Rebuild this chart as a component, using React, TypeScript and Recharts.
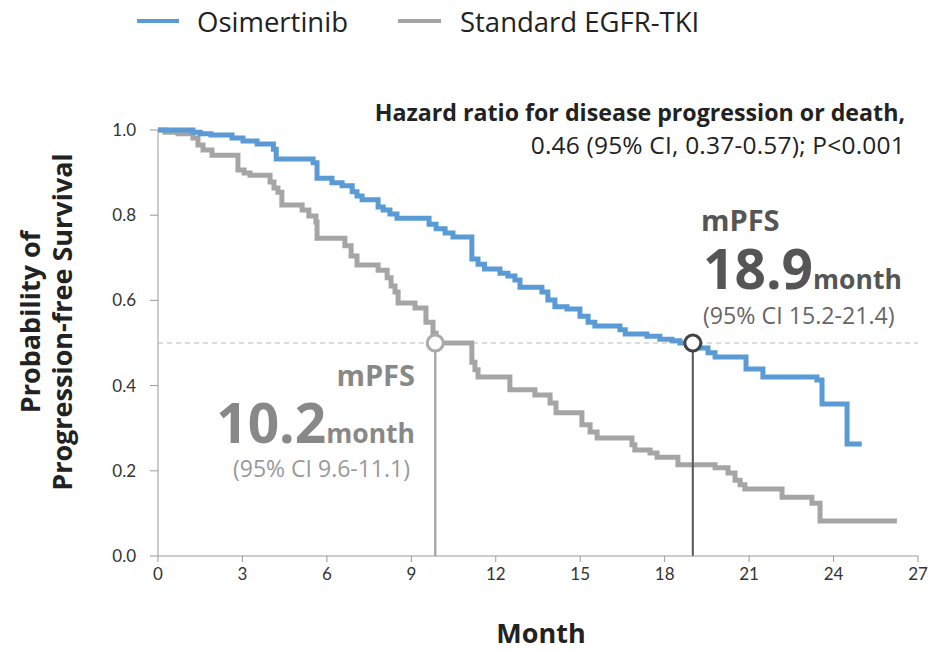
import { LineChart, Line, XAxis, YAxis, ReferenceLine, ReferenceDot } from 'recharts';

// Kaplan-Meier steps: [month, survival probability]
const osimertinibSteps: [number, number][] = [
  [0, 1.0], [1.24, 0.995], [1.5, 0.991], [1.88, 0.988], [2.63, 0.981], [3.02, 0.974],
  [3.52, 0.967], [4.1, 0.955], [4.2, 0.932], [5.51, 0.923], [5.65, 0.887], [6.18, 0.876],
  [6.54, 0.869], [6.9, 0.855], [7.07, 0.845], [7.25, 0.836], [7.82, 0.819], [8.0, 0.812],
  [8.24, 0.803], [8.49, 0.793], [9.63, 0.779], [9.88, 0.768], [10.2, 0.758], [10.48, 0.749],
  [11.15, 0.697], [11.37, 0.685], [11.6, 0.674], [12.15, 0.664], [12.43, 0.657], [12.68, 0.648],
  [12.86, 0.631], [13.64, 0.62], [13.85, 0.601], [14.1, 0.585], [14.53, 0.58], [14.99, 0.563],
  [15.28, 0.549], [15.52, 0.54], [16.41, 0.531], [16.6, 0.521], [17.37, 0.516], [17.83, 0.509],
  [18.26, 0.505], [18.54, 0.5], [19.25, 0.488], [19.54, 0.477], [19.79, 0.467], [20.89, 0.439],
  [21.49, 0.42], [23.41, 0.413], [23.59, 0.357], [24.48, 0.263], [25.0, 0.263],
];

const standardSteps: [number, number][] = [
  [0, 1.0], [0.25, 0.995], [0.71, 0.991], [1.24, 0.981], [1.42, 0.965], [1.6, 0.953],
  [1.92, 0.941], [2.84, 0.906], [3.06, 0.899], [3.27, 0.894], [3.98, 0.878], [4.12, 0.864],
  [4.26, 0.854], [4.4, 0.824], [5.12, 0.812], [5.36, 0.798], [5.61, 0.784], [5.65, 0.746],
  [6.64, 0.728], [6.86, 0.704], [7.07, 0.683], [7.82, 0.671], [8.14, 0.653], [8.28, 0.634],
  [8.42, 0.62], [8.53, 0.594], [9.13, 0.582], [9.52, 0.549], [9.77, 0.523], [9.88, 0.5],
  [11.15, 0.455], [11.26, 0.437], [11.37, 0.42], [12.5, 0.39], [13.39, 0.378], [13.93, 0.359],
  [14.14, 0.336], [15.06, 0.308], [15.35, 0.291], [15.6, 0.277], [16.84, 0.261], [16.94, 0.249],
  [17.48, 0.242], [17.73, 0.232], [18.47, 0.214], [19.79, 0.207], [20.25, 0.195], [20.5, 0.178],
  [20.68, 0.167], [20.85, 0.157], [22.17, 0.138], [23.23, 0.124], [23.52, 0.082], [26.25, 0.082],
];

const xTicks = [0, 3, 6, 9, 12, 15, 18, 21, 24, 27];
const yTicks = [0, 0.2, 0.4, 0.6, 0.8, 1.0];

const medianStandard = 9.85;
const medianOsimertinib = 19.0;

const BLUE = '#5b9bd5';
const GRAY = '#a5a5a5';
const FONT = '"Open Sans", Lato, sans-serif';
const TICK_FONT = 'Lato, sans-serif';

const osiData = osimertinibSteps.map(([month, surv]) => ({ month, surv }));
const stdData = standardSteps.map(([month, surv]) => ({ month, surv }));

// one absolutely placed line of text, vertically centred on cy
function TextLine({ cy, left, right, lh, style, children }: any) {
  return (
    <div
      style={{
        position: 'absolute',
        top: cy - lh / 2,
        left,
        right: right !== undefined ? 933 - right : undefined,
        lineHeight: `${lh}px`,
        whiteSpace: 'nowrap',
        textAlign: right !== undefined ? 'right' : 'left',
        ...style,
      }}
    >
      {children}
    </div>
  );
}

export default function App() {
  return (
    <div style={{ position: 'absolute', left: 0, top: 0, width: 933, height: 651, fontFamily: FONT, background: '#fff' }}>
      <LineChart width={933} height={651} margin={{ top: 130, right: 15, bottom: 65, left: 98 }}>
        <XAxis
          dataKey="month"
          type="number"
          domain={[0, 27]}
          ticks={xTicks}
          height={30}
          allowDuplicatedCategory={false}
          stroke="#999"
          tickSize={6}
          tickMargin={6}
          tick={{ fill: '#333', fontSize: 17, fontFamily: TICK_FONT }}
        />
        <YAxis
          type="number"
          domain={[0, 1]}
          ticks={yTicks}
          width={60}
          stroke="#999"
          tickSize={8}
          tickMargin={14}
          tickFormatter={(v: number) => v.toFixed(1)}
          tick={{ fill: '#333', fontSize: 17, fontFamily: TICK_FONT }}
        />
        <ReferenceLine y={0.5} stroke="#bbb" strokeDasharray="5 4" strokeWidth={1.2} />
        <Line data={stdData} dataKey="surv" type="stepAfter" stroke={GRAY} strokeWidth={5} dot={false} isAnimationActive={false} />
        <Line data={osiData} dataKey="surv" type="stepAfter" stroke={BLUE} strokeWidth={5} dot={false} isAnimationActive={false} />
        <ReferenceLine
          segment={[{ x: medianStandard, y: 0 }, { x: medianStandard, y: 0.5 }]}
          stroke="#aaa"
          strokeWidth={2.5}
        />
        <ReferenceLine
          segment={[{ x: medianOsimertinib, y: 0 }, { x: medianOsimertinib, y: 0.5 }]}
          stroke="#555"
          strokeWidth={2}
        />
        <ReferenceDot x={medianStandard} y={0.5} r={8} fill="#fff" stroke="#aaa" strokeWidth={3} />
        <ReferenceDot x={medianOsimertinib} y={0.5} r={8} fill="#fff" stroke="#444" strokeWidth={3} />
      </LineChart>

      {/* legend */}
      <div style={{ position: 'absolute', top: 3, left: 137, height: 36, display: 'flex', alignItems: 'center', fontSize: 27.5, color: '#222', whiteSpace: 'nowrap' }}>
        <span style={{ width: 42, height: 4, background: BLUE, display: 'inline-block', marginRight: 18 }} />
        <span>Osimertinib</span>
        <span style={{ width: 43, height: 4, background: GRAY, display: 'inline-block', marginLeft: 50, marginRight: 19 }} />
        <span>Standard EGFR-TKI</span>
      </div>

      {/* hazard ratio */}
      <TextLine cy={112} right={905} lh={28} style={{ fontSize: 23.2, fontWeight: 700, color: '#222' }}>
        Hazard ratio for disease progression or death,
      </TextLine>
      <TextLine cy={145} right={905} lh={28} style={{ fontSize: 24.5, letterSpacing: 0.2, color: '#222' }}>
        0.46 (95% CI, 0.37-0.57); P&lt;0.001
      </TextLine>

      {/* osimertinib median */}
      <TextLine cy={220} left={701} lh={28} style={{ fontSize: 29, fontWeight: 700, color: '#555' }}>mPFS</TextLine>
      <TextLine cy={268} left={703} lh={42} style={{ fontWeight: 700, color: '#555' }}>
        <span style={{ fontSize: 55 }}>18.9</span>
        <span style={{ fontSize: 26.5 }}>month</span>
      </TextLine>
      <TextLine cy={315} left={703} lh={24} style={{ fontSize: 23.2, color: '#666' }}>(95% CI 15.2-21.4)</TextLine>

      {/* standard median */}
      <TextLine cy={375} right={415} lh={28} style={{ fontSize: 29, fontWeight: 700, color: '#888' }}>mPFS</TextLine>
      <TextLine cy={422} right={415} lh={42} style={{ fontWeight: 700, color: '#888' }}>
        <span style={{ fontSize: 55 }}>10.2</span>
        <span style={{ fontSize: 26.5 }}>month</span>
      </TextLine>
      <TextLine cy={468} right={410} lh={24} style={{ fontSize: 23, color: '#999' }}>(95% CI 9.6-11.1)</TextLine>

      {/* y-axis title */}
      <div
        style={{
          position: 'absolute',
          left: 46,
          top: 322,
          transform: 'translate(-50%, -50%) rotate(-90deg)',
          textAlign: 'center',
          fontWeight: 700,
          fontSize: 27,
          lineHeight: '32px',
          color: '#222',
          whiteSpace: 'nowrap',
        }}
      >
        <div>Probability of</div>
        <div>Progression-free Survival</div>
      </div>

      {/* x-axis title */}
      <TextLine cy={633} left={0} lh={36} style={{ width: 933 + 2 * (541 - 466.5), textAlign: 'center', fontWeight: 700, fontSize: 27, color: '#222' }}>
        Month
      </TextLine>
    </div>
  );
}
